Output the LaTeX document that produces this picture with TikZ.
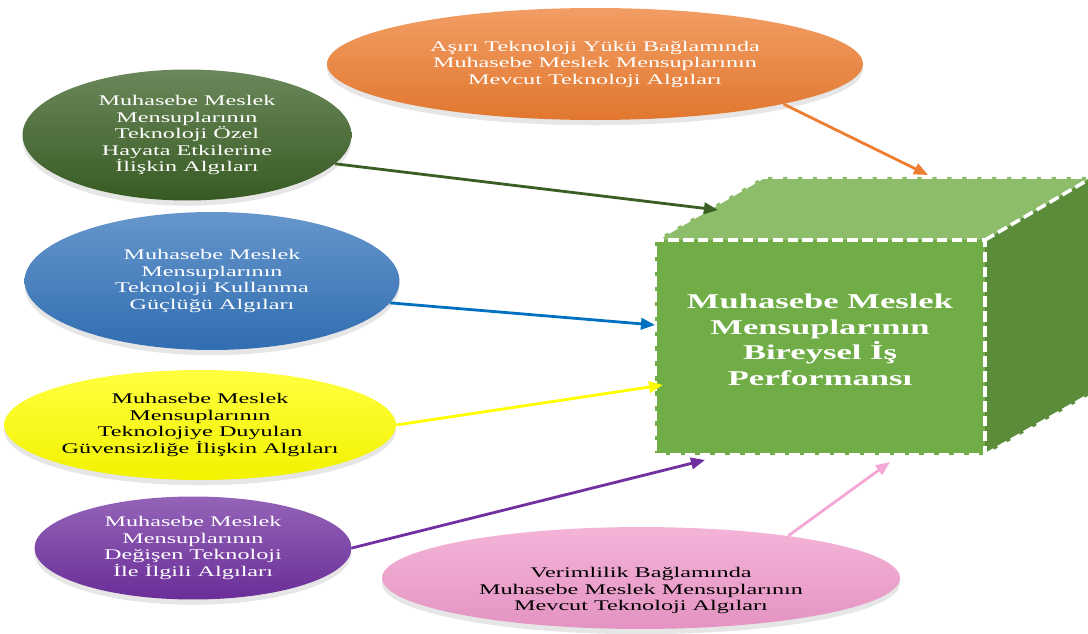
\documentclass[tikz,border=0pt]{standalone}
\usepackage{fontspec}
\setmainfont[FakeStretch=1.64]{Liberation Serif}
\usepackage{tikz}
\usetikzlibrary{arrows.meta}
\usetikzlibrary{shapes.geometric}
\usetikzlibrary{shadows}
\definecolor{turuncu}{HTML}{ED7D31}
\definecolor{koyuyesil}{HTML}{3A5F24}
\definecolor{mavi}{HTML}{3373BA}
\definecolor{sari}{HTML}{FFFF00}
\definecolor{mor}{HTML}{7030A0}
\definecolor{pembe}{HTML}{F09BCB}
\definecolor{onyuz}{HTML}{70AD47}
\definecolor{ustyuz}{HTML}{8DBD6A}
\definecolor{yanyuz}{HTML}{5A8C39}
\definecolor{okmavi}{HTML}{0070C0}
\definecolor{okpembe}{HTML}{F5A8D6}

\begin{document}
\begin{tikzpicture}[x=0.02cm,y=-0.02cm,
  oval/.style={ellipse, inner sep=0pt, align=center,
    font=\fontsize{8.4}{9.4}\selectfont,
    drop shadow={opacity=0.2, shadow xshift=0pt, shadow yshift=-3pt}},
  renk/.style={top color=#1!75!white, middle color=#1, bottom color=#1!95!black},
  ok/.style={line width=1.6pt, -{Triangle[length=8pt,width=6.5pt]}},
  kesik/.style={white, line width=2pt, dash pattern=on 6pt off 2.5pt}]
\useasboundingbox (0,0) rectangle (1088,634);

\node [oval, renk=turuncu, text=white, minimum width=10.72cm, minimum height=2.24cm] (asiri) at (595,64)
  {Aşırı Teknoloji Yükü Bağlamında\\Muhasebe Meslek Mensuplarının\\Mevcut Teknoloji Algıları};
\node [oval, renk=koyuyesil, text=white, minimum width=6.58cm, minimum height=2.62cm] (ozel) at (187,135)
  {Muhasebe Meslek\\Mensuplarının\\Teknoloji Özel\\Hayata Etkilerine\\İlişkin Algıları};
\node [oval, renk=mavi, text=white, minimum width=7.5cm, minimum height=2.76cm] (guclu) at (212,281)
  {Muhasebe Meslek\\Mensuplarının\\Teknoloji Kullanma\\Güçlüğü Algıları};
\node [oval, renk=sari, text=black, minimum width=7.52cm, minimum height=2.2cm] (guven) at (200,425)
  {Muhasebe Meslek\\Mensuplarının\\Teknolojiye Duyulan\\Güvensizliğe İlişkin Algıları};
\node [oval, renk=mor, text=white, minimum width=6.34cm, minimum height=2.06cm] (degis) at (193,548)
  {Muhasebe Meslek\\Mensuplarının\\Değişen Teknoloji\\İle İlgili Algıları};
\node [oval, renk=pembe, text=black, minimum width=10.36cm, minimum height=2cm] (verim) at (641,578)
  {\\[11pt]Verimlilik Bağlamında\\Muhasebe Meslek Mensuplarının\\Mevcut Teknoloji Algıları};

\fill [ustyuz] (655,240) -- (763,177) -- (1093,177) -- (985,240) -- cycle;
\fill [yanyuz] (985,240) -- (1093,177) -- (1093,393) -- (985,455) -- cycle;
\node [fill=onyuz, draw=white, line width=2pt, dash pattern=on 6pt off 2.5pt,
  minimum width=6.6cm, minimum height=4.3cm, align=center, text=white,
  font=\fontsize{12}{14.6}\selectfont\bfseries] (perf) at (820,347.5)
  {Muhasebe Meslek\\Mensuplarının\\Bireysel İş\\Performansı\rule[-9pt]{0pt}{9pt}};
\draw [kesik] (655,240) -- (763,177) -- (1093,177);
\draw [kesik] (985,240) -- (1093,177);
\draw [kesik] (985,455) -- (1093,393);

\coordinate (pA) at (928,175);
\coordinate (pB) at (718,210);
\coordinate (pC) at (655,325);
\coordinate (pD) at (663,385);
\coordinate (pE) at (705,460);
\coordinate (pF) at (890,462);

\draw [ok, turuncu] (asiri.-12) -- (pA);
\draw [ok, koyuyesil] (ozel.-11) -- (pB);
\draw [ok, okmavi] (guclu.-7) -- (pC);
\draw [ok, sari] (guven.east) -- (pD);
\draw [ok, mor] (degis.east) -- (pE);
\draw [ok, okpembe] (verim.16) -- (pF);

\end{tikzpicture}
\end{document}
